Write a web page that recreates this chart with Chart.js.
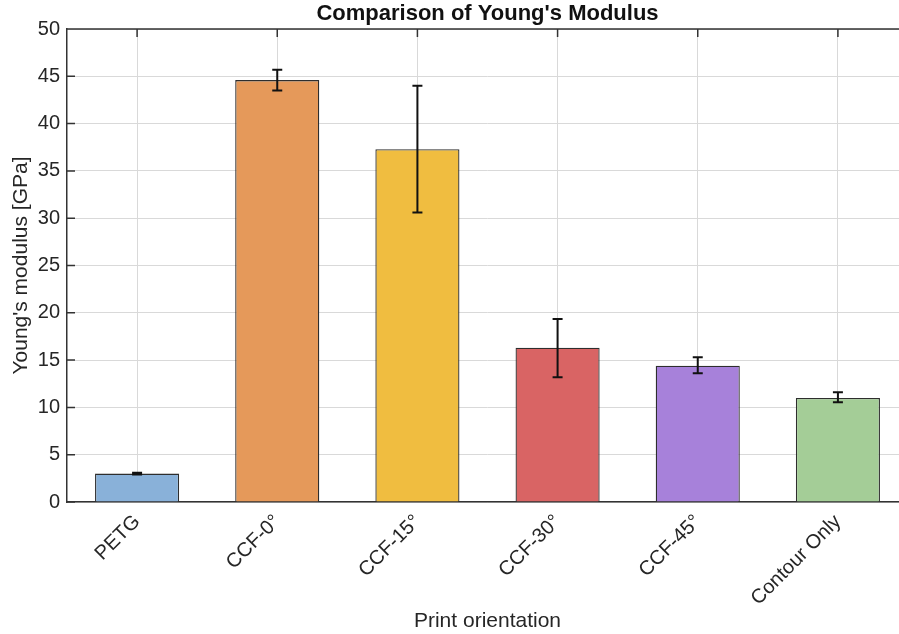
<!DOCTYPE html>
<html>
<head>
<meta charset="utf-8">
<script src="https://cdn.jsdelivr.net/npm/chart.js@4"></script>
<style>
  html, body { margin: 0; padding: 0; overflow: hidden; background: #fff; }
</style>
</head>
<body>
<canvas id="modulusChart" width="910" height="634"></canvas>
<script>
// data
const categories = ['PETG', 'CCF-0°', 'CCF-15°', 'CCF-30°', 'CCF-45°', 'Contour Only'];
const modulusMean = [3.0, 44.6, 37.3, 16.3, 14.4, 11.0];
const errLow = [2.9, 43.5, 30.6, 13.2, 13.6, 10.55];
const errHigh = [3.1, 45.7, 44.0, 19.35, 15.3, 11.6];
const barColors = ['#89b1d9', '#e5995a', '#f0bd40', '#d96464', '#a781da', '#a4cd97'];
const yTicks = [0, 5, 10, 15, 20, 25, 30, 35, 40, 45, 50];

const FONT = 'Arial, "Liberation Sans", sans-serif';
const INK = '#262626';

// error bars drawn from the y scale
const errorBars = {
  id: 'errorBars',
  afterDatasetsDraw(chart) {
    const ctx = chart.ctx;
    const y = chart.scales.y;
    const meta = chart.getDatasetMeta(0);
    ctx.save();
    ctx.strokeStyle = '#111';
    ctx.lineWidth = 2;
    meta.data.forEach((bar, i) => {
      const yl = y.getPixelForValue(errLow[i]);
      const yh = y.getPixelForValue(errHigh[i]);
      ctx.beginPath();
      ctx.moveTo(bar.x, yl); ctx.lineTo(bar.x, yh);
      ctx.moveTo(bar.x - 5, yl); ctx.lineTo(bar.x + 5, yl);
      ctx.moveTo(bar.x - 5, yh); ctx.lineTo(bar.x + 5, yh);
      ctx.stroke();
    });
    ctx.restore();
  }
};

// top border, inward ticks and title centred on the plot area
const frame = {
  id: 'frame',
  afterDraw(chart) {
    const ctx = chart.ctx;
    const a = chart.chartArea;
    const x = chart.scales.x;
    const y = chart.scales.y;
    ctx.save();
    ctx.strokeStyle = '#333';
    ctx.lineWidth = 1.5;
    ctx.beginPath();
    ctx.moveTo(a.left, a.top); ctx.lineTo(a.right, a.top);
    yTicks.forEach(v => {
      const py = y.getPixelForValue(v);
      ctx.moveTo(a.left, py); ctx.lineTo(a.left + 8, py);
    });
    categories.forEach((c, i) => {
      const px = x.getPixelForValue(i);
      ctx.moveTo(px, a.top); ctx.lineTo(px, a.top + 8);
    });
    ctx.stroke();
    ctx.fillStyle = '#111';
    ctx.font = 'bold 22px ' + FONT;
    ctx.textAlign = 'center';
    ctx.textBaseline = 'middle';
    ctx.fillText("Comparison of Young's Modulus", (a.left + a.right) / 2, 14);
    ctx.restore();
  }
};

new Chart(document.getElementById('modulusChart').getContext('2d'), {
  type: 'bar',
  data: {
    labels: categories,
    datasets: [{
      label: "Young's modulus",
      data: modulusMean,
      backgroundColor: barColors,
      borderColor: '#2e2e2e',
      borderWidth: 1.3,
      barPercentage: 0.6,
      categoryPercentage: 1.0
    }]
  },
  options: {
    responsive: false,
    animation: false,
    layout: { padding: { top: 29, right: 2, left: 0, bottom: 0 } },
    plugins: {
      legend: { display: false },
      tooltip: { enabled: false }
    },
    scales: {
      x: {
        offset: true,
        grid: { offset: false, color: '#d9d9d9', drawTicks: false },
        border: { color: '#333', width: 1.5 },
        ticks: {
          minRotation: 45, maxRotation: 45, padding: 8,
          color: INK, font: { family: FONT, size: 20 }
        },
        title: {
          display: true, text: 'Print orientation', color: INK,
          font: { family: FONT, size: 21 }, padding: { top: 4, bottom: 0 }
        },
        afterFit(s) { s.height = 132; }
      },
      y: {
        min: 0, max: 50,
        afterBuildTicks(s) { s.ticks = yTicks.map(v => ({ value: v })); },
        grid: { color: '#d9d9d9', drawTicks: false },
        border: { color: '#333', width: 1.5 },
        ticks: { padding: 7, color: INK, font: { family: FONT, size: 20 } },
        title: {
          display: true, text: "Young's modulus [GPa]", color: INK,
          font: { family: FONT, size: 21 }, padding: { top: 9, bottom: 0 }
        },
        afterFit(s) { s.width = 67; }
      }
    }
  },
  plugins: [errorBars, frame]
});
</script>
</body>
</html>
